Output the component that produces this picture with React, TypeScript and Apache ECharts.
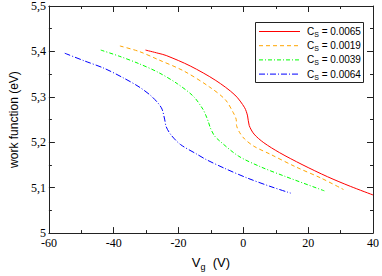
import React, { useEffect, useRef } from 'react';
import * as echarts from 'echarts';

// Gate voltage (V) and work function (eV)
const redX = [-30.2, -26.3, -23.8, -16.4, -8.5, -2.6, 0.4, 1.3, 1.8, 3.3, 6.3, 11.2, 18.1, 26, 33, 40];
const redY = [5.403, 5.396, 5.391, 5.368, 5.336, 5.304, 5.276, 5.258, 5.237, 5.218, 5.199, 5.177, 5.151, 5.124, 5.103, 5.084];

const orangeX = [-38.1, -32.2, -26.3, -18.4, -10.5, -5.6, -3.1, -2.2, -2.1, -1.2, 0.4, 3.3, 8.2, 16.1, 24, 30.9];
const orangeY = [5.412, 5.4, 5.382, 5.357, 5.322, 5.294, 5.265, 5.25, 5.237, 5.222, 5.207, 5.191, 5.174, 5.146, 5.121, 5.096];

const greenX = [-44, -38.1, -32.2, -26.3, -20.4, -15.4, -12.5, -11.5, -10.8, -10.2, -9, -7.5, -1.6, 5.3, 13.2, 25];
const greenY = [5.403, 5.389, 5.373, 5.354, 5.329, 5.301, 5.273, 5.258, 5.245, 5.232, 5.215, 5.204, 5.17, 5.146, 5.124, 5.093];

const blueX = [-55.1, -49, -43, -37.1, -32.2, -28.3, -25.3, -24.3, -23.8, -22.3, -19.4, -14.4, -11.5, -5.6, 1.3, 8.2, 14.6];
const blueY = [5.396, 5.379, 5.363, 5.342, 5.322, 5.301, 5.276, 5.251, 5.234, 5.216, 5.195, 5.174, 5.162, 5.142, 5.121, 5.103, 5.088];

const legendLabels = ['0.0065', '0.0019', '0.0039', '0.0064'];
const colors = ['#ff0000', '#ffa500', '#00ff00', '#0000ff'];
const dashes: (number[] | null)[] = [null, [4, 3], [4, 2, 1, 2], [6, 2, 1, 2]];

const xMin = -60, xMax = 40, xInterval = 20;
const yMin = 5, yMax = 5.5, yInterval = 0.1;

const zip = (xs: number[], ys: number[]) => xs.map((x, i) => [x, ys[i]]);

export default function App() {
  const ref = useRef<HTMLDivElement>(null);
  useEffect(() => {
    document.body.style.margin = '0';
    const chart = echarts.init(ref.current!, null, { renderer: 'svg' });
    const seriesData = [zip(redX, redY), zip(orangeX, orangeY), zip(greenX, greenY), zip(blueX, blueY)];
    const axisCommon = {
      axisLine: { show: true, onZero: false, lineStyle: { color: '#222', width: 1 } },
      axisTick: { show: true, inside: true, length: 6, lineStyle: { color: '#222' } },
      minorTick: { show: true, splitNumber: 2, length: 3, lineStyle: { color: '#222' } },
      splitLine: { show: false },
    };
    const serif = { fontFamily: 'Liberation Serif', fontSize: 12, color: '#000' };
    const sans = 'Liberation Sans';
    const legendItems: any[] = [
      { type: 'rect', shape: { x: 255.5, y: 22.5, width: 108, height: 60 }, style: { fill: '#fff', stroke: '#222', lineWidth: 1 }, z: 100 },
    ];
    legendLabels.forEach((lab, i) => {
      const y = 31.5 + i * 14.2;
      legendItems.push({
        type: 'line', shape: { x1: 259, y1: y, x2: 300, y2: y },
        style: { stroke: colors[i], lineWidth: 1, lineDash: dashes[i] || undefined }, z: 101,
      });
      legendItems.push({
        type: 'text', x: 307, y: y, z: 101,
        style: {
          text: '{a|C}{b|S}{a| = ' + lab + '}',
          verticalAlign: 'middle', align: 'left',
          rich: {
            a: { fontFamily: sans, fontSize: 10, fill: '#000', lineHeight: 12 },
            b: { fontFamily: sans, fontSize: 7, fill: '#000', lineHeight: 12, padding: [6, 0, 0, 0] },
          },
        },
      });
    });
    chart.setOption({
      animation: false,
      grid: { left: 36, right: 8, top: 6, bottom: 34 },
      xAxis: [
        {
          type: 'value', min: xMin, max: xMax, interval: xInterval, position: 'bottom',
          ...axisCommon,
          axisLabel: { ...serif, margin: 4 },
          name: '{a|V}{b|g}{a|  (V)}', nameLocation: 'middle', nameGap: 15,
          nameTextStyle: {
            rich: {
              a: { fontFamily: sans, fontSize: 13, color: '#000', lineHeight: 15 },
              b: { fontFamily: sans, fontSize: 9, color: '#000', lineHeight: 15, padding: [8, 0, 0, 0] },
            },
          },
        },
        {
          type: 'value', min: xMin, max: xMax, interval: xInterval, position: 'top',
          ...axisCommon, axisLabel: { show: false },
        },
      ],
      yAxis: [
        {
          type: 'value', min: yMin, max: yMax, interval: yInterval, position: 'left',
          ...axisCommon,
          axisLabel: {
            ...serif, margin: 3,
            formatter: (v: number) => String(Number(v.toFixed(1))).replace('.', ','),
          },
          name: 'work function (eV)', nameLocation: 'middle', nameGap: 23, nameRotate: 90,
          nameTextStyle: { fontFamily: sans, fontSize: 12, color: '#000' },
        },
        {
          type: 'value', min: yMin, max: yMax, interval: yInterval, position: 'right',
          ...axisCommon, axisLabel: { show: false },
        },
      ],
      series: seriesData.map((d, i) => ({
        type: 'line', data: d, smooth: 0.3, showSymbol: false, symbol: 'none',
        lineStyle: { color: colors[i], width: 1, type: dashes[i] || 'solid' },
        xAxisIndex: 0, yAxisIndex: 0,
      })),
      graphic: legendItems,
    });
    return () => chart.dispose();
  }, []);
  return <div ref={ref} style={{ width: 382, height: 276 }} />;
}
